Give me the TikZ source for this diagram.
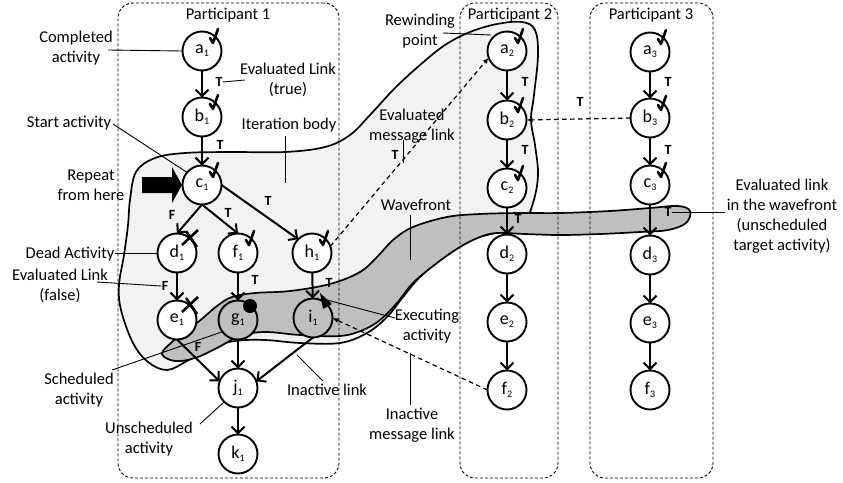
\documentclass[tikz,border=0pt]{standalone}
\usepackage{fontspec}
\setmainfont{Carlito}
\usetikzlibrary{arrows.meta}
\definecolor{bodygray}{HTML}{F2F2F2}
\definecolor{wavegray}{HTML}{BFBFBF}
% activity name with a lowered participant index
\newcommand\actname[2]{#1\raisebox{-3pt}{\fontsize{10}{10}\selectfont #2}}

\begin{document}
\begin{tikzpicture}[x=1pt,y=-1pt,
  act/.style={circle,draw,line width=1.9pt,fill=white,minimum size=39pt,inner sep=0pt,outer sep=0pt,font=\fontsize{18}{18}\selectfont},
  sched/.style={act,fill=wavegray},
  flow/.style={line width=2pt,-{Straight Barb[length=6.5pt,width=13pt]}},
  msg/.style={line width=1.2pt,dash pattern=on 4.5pt off 3.5pt,-{Latex[length=6pt,width=5pt]}},
  lead/.style={line width=0.9pt},
  tf/.style={font=\fontsize{14}{14}\selectfont\bfseries,inner sep=0pt},
  lbl/.style={align=center,font=\fontsize{16.5}{20}\selectfont,inner sep=0pt},
  part/.style={draw,line width=0.9pt,dash pattern=on 3pt off 2pt,rounded corners=15pt,inner sep=0pt,outer sep=0pt},
  tick/.style={line width=2.6pt,line cap=round,line join=round},
  crossmark/.style={line width=2.6pt},
  body/.style={draw,line width=1.7pt,fill=bodygray},
  wave/.style={draw,line width=1.7pt,fill=wavegray},
]
\useasboundingbox (0,0) rectangle (843,482);

% iteration body
\path[body] plot[smooth cycle,tension=0.6] coordinates {
  (130,200) (136,172) (155,158) (185,153) (230,152) (285,152) (325,147)
  (350,135) (370,115) (395,88) (420,65) (445,45) (470,32) (497,24)
  (522,22) (535,30) (538,55) (534,95) (531,120) (535,145) (538,175)
  (533,203) (522,225) (495,233) (470,240) (447,254) (420,277) (403,297)
  (387,317) (367,333) (340,343) (300,343) (265,340) (235,341) (210,348)
  (187,361) (167,370) (148,362) (133,343) (121,310) (119,285) (124,255)
  (128,225)};

% wavefront
\path[wave] plot[smooth cycle,tension=0.6] coordinates {
  (162,354) (172,342) (188,330) (203,318) (217,306) (232,297) (255,293)
  (290,291) (330,284) (360,272) (378,256) (393,240) (413,227) (447,217)
  (480,214) (520,213) (560,213) (610,211) (650,208) (678,206) (690,211)
  (686,223) (668,230) (640,232) (600,234) (560,235) (525,234) (497,233)
  (480,237) (460,247) (437,263) (413,283) (397,303) (380,320) (363,330)
  (340,336) (300,335) (265,332) (240,336) (217,348) (195,358) (175,361)};

% participants
\node[part,minimum width=221pt,minimum height=475pt] (p1) at (228.5,240.5) {};
\node[part,minimum width=98pt,minimum height=475pt] (p2) at (509,240.5) {};
\node[part,minimum width=123pt,minimum height=475pt] (p3) at (651.5,240.5) {};
\node[lbl] (p1t) at (228,15) {Participant 1};
\node[lbl] (p2t) at (510,15) {Participant 2};
\node[lbl] (p3t) at (651,15) {Participant 3};

% activities of participant 1
\node[act] (a1) at (202,51) {\actname{a}{1}};
\node[act] (b1) at (202,117) {\actname{b}{1}};
\node[act] (c1) at (202,185) {\actname{c}{1}};
\node[act] (d1) at (177,253) {\actname{d}{1}};
\node[act] (f1) at (238,253) {\actname{f}{1}};
\node[act] (h1) at (312,253) {\actname{h}{1}};
\node[act] (e1) at (177,320) {\actname{e}{1}};
\node[sched] (g1) at (238,320) {\actname{g}{1}};
\node[sched] (i1) at (313,318) {\actname{i}{1}};
\node[act] (j1) at (238,388) {\actname{j}{1}};
\node[act] (k1) at (238,454) {\actname{k}{1}};
% participant 2
\node[act] (a2) at (507,51) {\actname{a}{2}};
\node[act] (b2) at (507,120) {\actname{b}{2}};
\node[act] (c2) at (507,188) {\actname{c}{2}};
\node[act] (d2) at (507,254) {\actname{d}{2}};
\node[act] (e2) at (507,322) {\actname{e}{2}};
\node[act] (f2) at (507,390) {\actname{f}{2}};
% participant 3
\node[act] (a3) at (650,52) {\actname{a}{3}};
\node[act] (b3) at (650,118) {\actname{b}{3}};
\node[act] (c3) at (650,185) {\actname{c}{3}};
\node[act] (d3) at (650,255) {\actname{d}{3}};
\node[act] (e3) at (650,323) {\actname{e}{3}};
\node[act] (f3) at (650,390) {\actname{f}{3}};

% control links
\draw[flow] (a1) -- (b1);
\draw[flow] (b1) -- (c1);
\draw[flow] (c1.south) -- (d1.north);
\draw[flow] (c1.south) -- (f1.north);
\draw[flow] (c1.east) -- (h1.135);
\draw[flow] (d1) -- (e1);
\draw[flow] (f1) -- (g1);
\draw[flow] (h1) -- (i1);
\draw[flow] (e1.south) -- (j1.160);
\draw[flow] (g1) -- (j1);
\draw[flow] (i1.south) -- (j1.20);
\draw[flow] (j1) -- (k1);
\draw[flow] (a2) -- (b2);
\draw[flow] (b2) -- (c2);
\draw[flow] (c2) -- (d2);
\draw[flow] (d2) -- (e2);
\draw[flow] (e2) -- (f2);
\draw[flow] (a3) -- (b3);
\draw[flow] (b3) -- (c3);
\draw[flow] (c3) -- (d3);
\draw[flow] (d3) -- (e3);
\draw[flow] (e3) -- (f3);

% message links
\draw[msg] (h1.20) -- (a2.200);
\draw[msg] (b3.west) -- (b2.east);
\draw[msg] (f2.west) -- (i1.east);

% link values
\node[tf] (vab1) at (219,82) {T};
\node[tf] (vbc1) at (220,145) {T};
\node[tf] (vcd1) at (172,215) {F};
\node[tf] (vcf1) at (228,213) {T};
\node[tf] (vch1) at (268,201) {T};
\node[tf] (vde1) at (165,286) {F};
\node[tf] (vfg1) at (255,280) {T};
\node[tf] (vhi1) at (329,283) {T};
\node[tf] (vej1) at (198,347) {F};
\node[tf] (vab2) at (525,82) {T};
\node[tf] (vbc2) at (525,150) {T};
\node[tf] (vcd2) at (518,219) {T};
\node[tf] (vab3) at (668,82) {T};
\node[tf] (vbc3) at (668,150) {T};
\node[tf] (vcd3) at (668,212) {T};
\node[tf] (vmb) at (580,102) {T};
\node[tf] (vma) at (395,155) {T};

% state marks: completed
\foreach \n in {a1,b1,c1,f1,h1,a2,b2,c2,a3,b3,c3}
  \draw[tick] ([shift={(8,-13)}]\n.center) -- ([shift={(11,-8)}]\n.center) -- ([shift={(16,-22)}]\n.center);
% dead
\foreach \n in {d1,e1} {
  \draw[crossmark] ([shift={(5,-8)}]\n.center) -- ([shift={(21,-23)}]\n.center);
  \draw[crossmark] ([shift={(9,-22)}]\n.center) -- ([shift={(20,-6)}]\n.center);
}
% scheduled
\fill ([shift={(12,-14)}]g1.center) circle[radius=7];
% executing
\fill ([shift={(7,-25)}]i1.center) -- ([shift={(19,-14)}]i1.center) -- ([shift={(10,-9)}]i1.center) -- cycle;

% repeat arrow
\fill (142,177) -- (172,177) -- (172,167) -- (182,185) -- (172,203) -- (172,193) -- (142,193) -- cycle;

% annotations
\node[lbl] (lcomp) at (76,48) {Completed\\activity};
\draw[lead] (108,50) -- (a1.west);
\node[lbl] (ltrue) at (288,80) {Evaluated Link\\(true)};
\draw[lead] (vab1.east) -- (245,80);
\node[lbl] (lstart) at (69,123) {Start activity};
\draw[lead] (113,124) -- (c1.140);
\node[lbl] (liter) at (289,125) {Iteration body};
\draw[lead] (285,136) -- (285,183);
\node[lbl] (lrep) at (91,185) {Repeat\\from here};
\node[lbl] (ldead) at (70,254) {Dead Activity};
\draw[lead] (115,253) -- (d1.west);
\node[lbl] (lfalse) at (60,286) {Evaluated Link\\(false)};
\draw[lead] (97,282) -- (vde1.west);
\node[lbl] (lsched) at (79,390) {Scheduled\\activity};
\draw[lead] (112,370) -- (g1.217);
\node[lbl] (lunsch) at (149,439) {Unscheduled\\activity};
\draw[lead] (200,424) -- (j1.225);
\node[lbl] (linact) at (327,390) {Inactive link};
\draw[lead] (323,381) -- (297,355);
\node[lbl] (lexec) at (427,326) {Executing\\activity};
\draw[lead] (327,300) -- (395,318);
\node[lbl] (limsg) at (412,425) {Inactive\\message link};
\draw[lead] (410,405) -- (410,353);
\node[lbl] (lemsg) at (412,126) {Evaluated\\message link};
\draw[lead] (403,140) -- (403,163);
\node[lbl] (lrew) at (420,31) {Rewinding\\point};
\draw[lead] (443,33) -- (491,35);
\node[lbl] (lwave) at (416,205) {Wavefront};
\draw[lead] (410,215) -- (410,260);
\node[lbl] (lwlink) at (782,216) {Evaluated link\\in the wavefront\\(unscheduled\\target activity)};
\draw[lead] (vcd3.east) -- (725,212);
\end{tikzpicture}
\end{document}
